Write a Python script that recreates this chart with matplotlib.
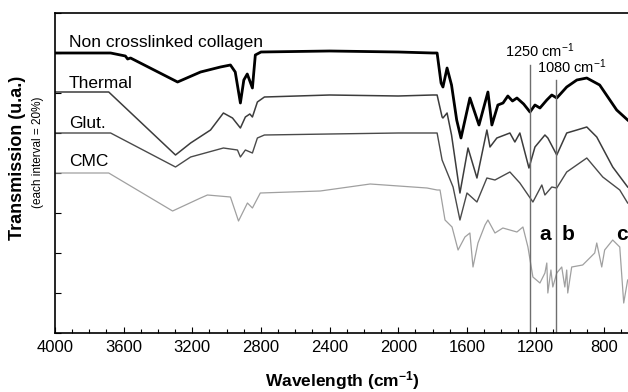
import numpy as np
import matplotlib
matplotlib.use("Agg")
import matplotlib.pyplot as plt
from matplotlib.ticker import MultipleLocator

plt.rcParams['font.family'] = ['Liberation Sans', 'DejaVu Sans']
plt.rcParams['mathtext.fontset'] = 'custom'
plt.rcParams['mathtext.rm'] = 'Liberation Sans'
plt.rcParams['mathtext.it'] = 'Liberation Sans'
plt.rcParams['mathtext.bf'] = 'Liberation Sans:bold'

# FTIR spectra, offset traces (transmission, each interval = 20%)
wn_native = [4000, 3676, 3590, 3577, 3560, 3286, 3152, 3036, 2978, 2950, 2920, 2900,
             2880, 2850, 2833, 2800, 2400, 2000, 1800, 1774, 1751, 1740, 1716, 1690,
             1660, 1635, 1583, 1530, 1478, 1455, 1420, 1390, 1362, 1335, 1309, 1270,
             1233, 1204, 1175, 1135, 1106, 1077, 1019, 960, 902, 827, 728, 664]
tr_native = [140, 140, 138.5, 137, 137.5, 125.5, 130.5, 133, 134, 130.5, 115, 126.5,
             129.5, 122.5, 139, 140.5, 141, 140.5, 140, 140, 125, 123, 132.5, 124,
             106.5, 97.5, 117.5, 104, 120.5, 104, 114, 115, 118.5, 116, 117.5, 114.5,
             110.5, 114, 112.5, 116.5, 119, 117.5, 123, 126.5, 127.5, 124, 111.5, 106.5]

wn_thermal = [4000, 3687, 3298, 3210, 3094, 3019, 2966, 2920, 2891, 2865, 2850, 2821,
              2780, 2400, 2000, 1800, 1774, 1745, 1740, 1716, 1690, 1641, 1594, 1542,
              1484, 1466, 1426, 1350, 1321, 1292, 1239, 1204, 1146, 1129, 1077, 1019,
              960, 902, 844, 751, 664]
tr_thermal = [120.5, 120.5, 89, 95, 101.5, 110, 107.5, 102.5, 108, 109.5, 108, 115.5,
              118, 119, 118.5, 119, 119, 108, 107.5, 110, 99, 70, 92.5, 77.5,
              101.5, 93, 97.5, 100, 95.5, 100, 82.5, 93, 99, 97.5, 89, 100,
              101.5, 103, 98, 83, 73]

wn_glut = [4000, 3676, 3298, 3210, 3019, 2937, 2920, 2891, 2850, 2821, 2780, 2400,
           2000, 1800, 1774, 1745, 1681, 1641, 1600, 1542, 1484, 1437, 1350, 1292,
           1216, 1164, 1146, 1106, 1077, 1019, 902, 809, 710, 664]
tr_glut = [100, 100, 83, 88, 92.5, 91.5, 88, 91.5, 90, 97.5, 99, 99.5,
           100, 100, 100, 86.5, 73, 56.5, 70, 65.5, 77.5, 76.5, 80.5, 75,
           65.5, 74, 69, 73, 72.5, 80.5, 87.5, 78, 71.5, 65]

wn_cmc = [4000, 3687, 3315, 3152, 3112, 2978, 2931, 2879, 2850, 2804, 2455, 2164,
          1833, 1774, 1757, 1728, 1687, 1652, 1612, 1583, 1565, 1536, 1495, 1478,
          1437, 1391, 1309, 1274, 1245, 1216, 1175, 1146, 1135, 1129, 1111, 1100,
          1077, 1048, 1030, 1019, 1013, 990, 926, 885, 856, 844, 815, 798,
          751, 710, 687, 664]
tr_cmc = [80, 80, 61, 67.5, 69, 68, 56, 65, 62.5, 70, 71, 74.5,
          72.5, 71.5, 71.5, 56.5, 53, 41.5, 48, 50, 33, 45, 54, 56.5,
          50, 52.5, 50.5, 53, 43, 28, 25, 30, 35, 20, 31.5, 23,
          30, 33, 23, 31.5, 20, 33, 34, 37.5, 40, 45, 33, 41.5,
          46.5, 43, 15, 26.5]

marker_lines = [1235, 1080]

fig = plt.figure(figsize=(6.28, 3.92), dpi=100)
ax = fig.add_axes([55 / 628, 59 / 392, 1 - 55 / 628, 320 / 392])

ax.plot(wn_native, tr_native, color='black', lw=2.0)
ax.plot(wn_thermal, tr_thermal, color='#3c3c3c', lw=1.1)
ax.plot(wn_glut, tr_glut, color='#4a4a4a', lw=1.0)
ax.plot(wn_cmc, tr_cmc, color='#a0a0a0', lw=0.9)

# marker lines at 1250 and 1080 cm-1
ax.plot([marker_lines[0]] * 2, [0, 134], color='#6e6e6e', lw=1.0)
ax.plot([marker_lines[1]] * 2, [0, 126.5], color='#6e6e6e', lw=1.0)

ax.set_xlim(4000, 662)
ax.set_ylim(0, 160)
ax.xaxis.set_major_locator(MultipleLocator(400))
ax.xaxis.set_minor_locator(MultipleLocator(100))
ax.yaxis.set_major_locator(MultipleLocator(20))
ax.set_yticklabels([])
ax.tick_params(axis='x', which='major', direction='in', length=4, width=0.8,
               labelsize=12, pad=5)
ax.tick_params(axis='x', which='minor', direction='in', length=3, width=0.8)
ax.tick_params(axis='y', direction='in', length=4, width=0.8)
ax.spines['right'].set_visible(False)
for s in ['top', 'left', 'bottom']:
    ax.spines[s].set_linewidth(1.2)

# curve labels
ax.text(3920, 145, 'Non crosslinked collagen', fontsize=12.5, va='center', ha='left')
ax.text(3920, 124.5, 'Thermal', fontsize=12.5, va='center', ha='left')
ax.text(3920, 105, 'Glut.', fontsize=12.5, va='center', ha='left')
ax.text(3920, 85.5, 'CMC', fontsize=12.5, va='center', ha='left')

ax.text(1379, 138, '1250 cm$^{-1}$', fontsize=10.5, va='baseline', ha='left')
ax.text(1193, 130, '1080 cm$^{-1}$', fontsize=10.5, va='baseline', ha='left')

for lab, x in zip(['a', 'b', 'c'], [1146, 1013, 699]):
    ax.text(x, 46.5, lab, fontsize=15, fontweight='bold', va='baseline', ha='center',
            clip_on=False)

fig.text(342 / 628, 1 - 386 / 392, 'Wavelength (cm$^{\\mathbf{-1}}$)', fontsize=12.5,
         fontweight='bold', ha='center', va='baseline')
fig.text(18 / 628, 1 - 158 / 392, 'Transmission (u.a.)', fontsize=13, fontweight='bold',
         rotation=90, ha='center', va='center')
fig.text(38 / 628, 1 - 152 / 392, '(each interval = 20%)', fontsize=8.5,
         rotation=90, ha='center', va='center')

fig.savefig('out.png', dpi=100)
